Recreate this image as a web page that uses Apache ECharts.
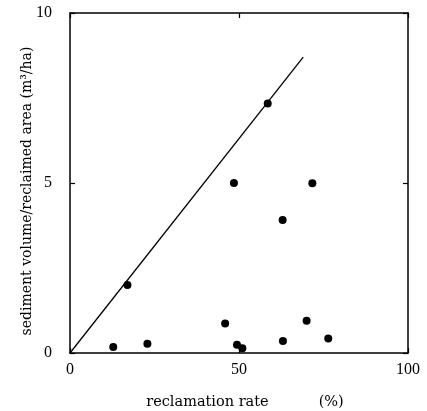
<!DOCTYPE html>
<html>
<head>
<meta charset="utf-8">
<script src="https://cdn.jsdelivr.net/npm/echarts@6/dist/echarts.min.js"></script>
<style>html,body{margin:0;padding:0;background:#fff}#c{width:427px;height:411px}</style>
</head>
<body>
<div id="c"></div>
<script>
var xValues = [12.8, 22.9, 17.0, 45.9, 48.5, 49.4, 51.0, 58.5, 62.9, 63.0, 70.0, 71.7, 76.4];
var yValues = [0.18, 0.27, 2.0, 0.87, 5.0, 0.24, 0.14, 7.34, 3.91, 0.35, 0.95, 4.99, 0.43];
var lineX = [0, 69];
var lineY = [0, 8.7];
var xTicks = [0, 50, 100];
var yTicks = [0, 5, 10];

var font = 'Liberation Serif';
var tfont = 'DejaVu Serif';
var pts = xValues.map(function (x, i) { return [x, yValues[i]]; });
var linePts = lineX.map(function (x, i) { return [x, lineY[i]]; });

var chart = echarts.init(document.getElementById('c'));
var axisLine = { show: true, onZero: false, lineStyle: { color: '#000', width: 1.5 } };
var tick = { show: true, inside: true, length: 5, lineStyle: { color: '#000', width: 1.2 } };
chart.setOption({
  animation: false,
  backgroundColor: '#fff',
  grid: { left: 70, right: 19, top: 13, bottom: 58, containLabel: false, outerBoundsMode: 'none' },
  xAxis: [{
    type: 'value', min: 0, max: 100, interval: 50,
    position: 'bottom',
    axisLine: axisLine, axisTick: tick,
    splitLine: { show: false },
    axisLabel: { color: '#000', fontFamily: font, fontSize: 16, margin: 9,
      formatter: function (v) { return xTicks.indexOf(v) >= 0 ? String(v) : ''; } },
    name: '{a|reclamation rate}{b|(%)}',
    nameLocation: 'middle', nameGap: 42, nameMoveOverlap: false,
    nameTextStyle: { padding: [0, 0, 0, 12],
      rich: { a: { fontFamily: tfont, fontSize: 14.5, color: '#000' },
              b: { fontFamily: tfont, fontSize: 14.5, color: '#000', padding: [0, 0, 0, 50] } } }
  }, {
    type: 'value', min: 0, max: 100, interval: 50,
    position: 'top',
    axisLine: axisLine, axisTick: tick,
    axisLabel: { show: false }, splitLine: { show: false }
  }],
  yAxis: [{
    type: 'value', min: 0, max: 10, interval: 5,
    position: 'left',
    axisLine: axisLine, axisTick: tick,
    splitLine: { show: false },
    axisLabel: { color: '#000', fontFamily: font, fontSize: 16, margin: 18,
      formatter: function (v) { return yTicks.indexOf(v) >= 0 ? String(v) : ''; } },
    name: 'sediment volume/reclaimed area (m³/ha)',
    nameLocation: 'middle', nameGap: 36, nameMoveOverlap: false,
    nameTextStyle: { fontFamily: tfont, fontSize: 14, color: '#000', padding: [0, 16, 0, 0] }
  }, {
    type: 'value', min: 0, max: 10, interval: 5,
    position: 'right',
    axisLine: axisLine, axisTick: tick,
    axisLabel: { show: false }, splitLine: { show: false }
  }],
  series: [{
    type: 'line', data: linePts, showSymbol: false, symbol: 'none',
    lineStyle: { color: '#000', width: 1.3 }, silent: true
  }, {
    type: 'scatter', data: pts, symbol: 'circle', symbolSize: 8,
    itemStyle: { color: '#000', opacity: 1 }
  }]
});
</script>
</body>
</html>
